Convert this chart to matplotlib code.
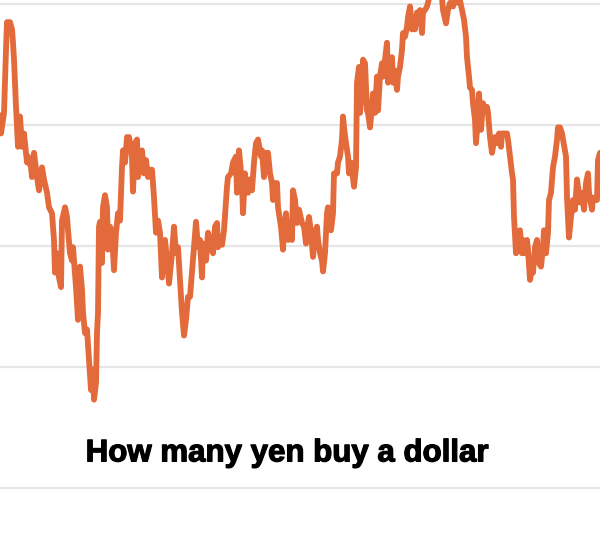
"""
Yen per dollar line, cropped view with a title inside the plot.
"""
import matplotlib
matplotlib.use("Agg")
import matplotlib.pyplot as plt
import matplotlib.patheffects as pe

LINE_COLOR = "#E36B3B"
GRID_COLOR = "#E6E6E6"

# time position (arbitrary period index) and yen per dollar
periods = [
    0, 1, 4, 6, 7, 10, 12, 13, 14, 16, 18, 20, 22, 24, 27, 28, 31, 32, 34, 37,
    39, 42, 44, 47, 49, 52, 54, 55, 57, 59, 61, 62, 65, 67, 68, 70, 72, 73, 76, 78,
    80, 82, 83, 85, 87, 89, 91, 93, 94, 96, 97, 98, 99, 100, 102, 103, 105, 107, 108, 110,
    112, 114, 116, 118, 120, 122, 123, 125, 127, 129, 132, 133, 135, 137, 138, 141, 142, 144, 146, 148,
    150, 152, 154, 156, 158, 160, 162, 163, 165, 167, 169, 172, 174, 176, 178, 180, 182, 184, 186, 188,
    190, 192, 194, 196, 198, 200, 202, 203, 206, 208, 211, 213, 215, 217, 218, 220, 222, 224, 227, 228,
    231, 233, 236, 237, 239, 242, 243, 245, 247, 248, 250, 252, 254, 256, 258, 261, 262, 264, 266, 268,
    270, 272, 273, 274, 277, 278, 281, 283, 284, 286, 288, 290, 292, 293, 295, 297, 299, 302, 304, 306,
    308, 309, 311, 313, 315, 317, 318, 320, 322, 323, 325, 327, 328, 331, 333, 334, 337, 338, 340, 342,
    343, 344, 346, 348, 349, 351, 352, 354, 356, 357, 359, 360, 362, 363, 365, 367, 368, 370, 372, 373,
    375, 377, 378, 380, 382, 383, 385, 387, 388, 390, 392, 393, 395, 397, 398, 400, 402, 403, 405, 407,
    408, 410, 412, 413, 415, 417, 418, 420, 422, 423, 425, 427, 428, 432, 436, 439, 442, 443, 446, 448,
    450, 453, 456, 458, 460, 462, 464, 466, 467, 469, 470, 472, 473, 475, 476, 478, 479, 481, 483, 485,
    487, 488, 490, 492, 493, 495, 497, 499, 501, 502, 505, 507, 508, 510, 512, 513, 514, 516, 518, 520,
    522, 523, 525, 527, 528, 530, 532, 533, 535, 537, 539, 541, 543, 544, 546, 548, 549, 551, 553, 555,
    557, 558, 560, 562, 563, 566, 567, 569, 571, 573, 575, 577, 578, 580, 582, 584, 586, 588, 589, 592,
    593, 595, 597, 598, 600,
]
yen = [
    130.8, 129.3, 131.0, 136.2, 138.5, 138.5, 137.9, 136.8, 135.4, 131.5, 128.2, 130.7, 128.2, 129.3, 126.9, 127.4, 126.5, 125.7, 127.7, 125.7,
    124.6, 126.5, 125.5, 124.4, 123.2, 122.7, 120.5, 117.8, 119.4, 117.4, 116.6, 122.1, 123.2, 122.4, 121.3, 119.4, 118.8, 119.9, 116.6, 113.9,
    118.3, 116.4, 114.5, 112.8, 113.1, 110.6, 108.1, 109.8, 107.3, 108.7, 112.8, 114.5, 121.6, 122.0, 118.6, 123.2, 124.2, 123.2, 119.7, 121.6,
    121.1, 118.0, 121.1, 122.7, 122.1, 126.5, 127.9, 126.9, 129.0, 129.0, 127.4, 124.5, 128.5, 128.8, 125.7, 127.7, 127.9, 126.0, 127.1, 125.7,
    126.3, 126.3, 124.0, 121.1, 122.1, 121.1, 117.4, 118.8, 120.5, 118.8, 116.9, 119.4, 121.6, 119.4, 119.9, 117.2, 114.5, 112.6, 113.9, 115.8,
    115.8, 117.8, 119.9, 122.0, 119.9, 120.5, 117.4, 120.2, 118.8, 121.1, 119.9, 119.4, 121.6, 121.9, 119.9, 120.7, 120.1, 121.3, 124.9, 125.7,
    126.0, 126.9, 127.4, 124.4, 127.9, 125.2, 122.7, 126.0, 124.6, 124.4, 125.5, 124.6, 126.9, 128.5, 128.8, 127.4, 127.9, 125.7, 127.7, 127.7,
    126.0, 125.2, 123.8, 125.2, 125.2, 123.2, 121.6, 119.7, 121.3, 122.7, 120.5, 121.3, 120.5, 124.6, 123.8, 121.9, 123.0, 121.9, 121.6, 120.2,
    121.9, 122.4, 121.1, 119.1, 121.1, 121.6, 120.5, 119.4, 118.8, 117.9, 119.4, 122.7, 123.2, 121.3, 122.7, 126.0, 126.0, 126.9, 127.4, 128.8,
    130.7, 129.8, 128.5, 127.4, 126.0, 126.9, 126.3, 124.9, 126.5, 133.5, 134.8, 131.0, 132.9, 135.4, 135.1, 131.2, 131.0, 129.8, 131.5, 132.6,
    131.0, 134.0, 131.2, 134.0, 135.1, 134.0, 135.4, 136.8, 133.5, 134.8, 135.6, 133.5, 134.5, 132.9, 134.0, 134.8, 136.2, 137.6, 137.3, 138.1,
    138.9, 139.8, 137.9, 138.9, 137.9, 139.3, 138.7, 139.5, 137.6, 139.3, 139.5, 139.8, 140.1, 141.6, 142.4, 141.3, 140.5, 139.5, 138.4, 139.5,
    140.1, 139.8, 140.6, 140.1, 140.3, 139.5, 138.7, 137.3, 135.6, 134.0, 133.1, 132.9, 131.8, 130.4, 128.5, 130.7, 132.6, 129.6, 131.8, 131.2,
    131.5, 131.0, 129.0, 127.7, 128.2, 129.0, 128.5, 129.3, 128.2, 129.3, 129.3, 129.3, 128.8, 127.4, 126.0, 125.5, 122.4, 119.4, 121.1, 121.3,
    119.4, 120.5, 119.4, 120.5, 119.7, 117.2, 118.3, 117.8, 119.9, 120.5, 118.6, 118.3, 119.9, 121.3, 119.4, 121.1, 123.8, 124.4, 126.5, 127.4,
    128.8, 129.8, 129.8, 129.3, 128.8, 127.4, 124.0, 120.7, 122.4, 123.8, 123.0, 125.5, 124.9, 123.6, 124.4, 123.0, 125.2, 126.0, 124.4, 123.0,
    124.0, 123.8, 123.8, 127.1, 127.7,
]
grid_levels = [100, 110, 120, 130, 140]
title = "How many yen buy a dollar"


def main():
    fig = plt.figure(figsize=(6.0, 5.49), dpi=100)
    ax = fig.add_axes([0, 0, 1, 1])
    ax.set_xlim(0, 600)
    ax.set_ylim(94.96, 140.33)

    for level in grid_levels:
        ax.axhline(level, color=GRID_COLOR, lw=1.6, zorder=1)

    ax.plot(periods, yen, color=LINE_COLOR, lw=4.2, solid_joinstyle="round",
            solid_capstyle="round", zorder=3)

    ax.text(287, 102.2, title, ha="center", va="baseline", fontsize=22.5,
            fontweight="bold", family="Liberation Sans", color="#000000", zorder=4,
            path_effects=[pe.withStroke(linewidth=0.9, foreground="#000000")])

    ax.axis("off")
    fig.savefig("out.png", dpi=100, facecolor="white")
    plt.close(fig)


if __name__ == "__main__":
    main()
